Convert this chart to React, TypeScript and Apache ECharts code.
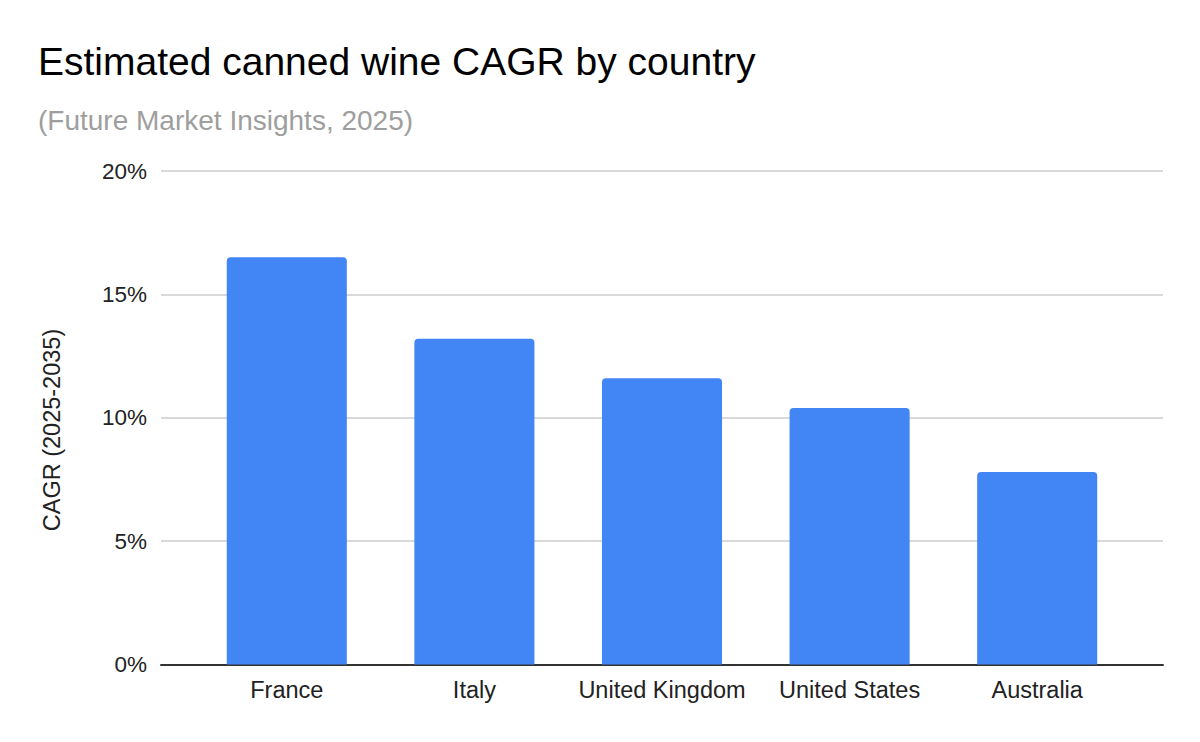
import { useEffect, useRef } from "react"
import * as echarts from "echarts"

const countries = ["France", "Italy", "United Kingdom", "United States", "Australia"]
const cagrValues = [16.5, 13.2, 11.6, 10.4, 7.8]
const yTicks = [0, 5, 10, 15, 20]

const chartTitle = "Estimated canned wine CAGR by country"
const chartSubtitle = "(Future Market Insights, 2025)"
const yAxisName = "CAGR (2025-2035)"

const FONT = "Liberation Sans, Arial, Helvetica, sans-serif"

export default function App() {
  const hostRef = useRef<HTMLDivElement>(null)

  useEffect(() => {
    const el = hostRef.current
    if (!el) return
    const chart = echarts.init(el, undefined, { renderer: "svg" })

    const yMin = yTicks[0]
    const yMax = yTicks[yTicks.length - 1]
    const yStep = yTicks[1] - yTicks[0]

    chart.setOption({
      animation: false,
      backgroundColor: "#ffffff",
      title: [
        {
          text: chartTitle,
          left: 33,
          top: 37,
          textStyle: { fontFamily: FONT, fontSize: 39, fontWeight: "normal", color: "#000000" },
        },
        {
          text: chartSubtitle,
          left: 33,
          top: 101,
          textStyle: { fontFamily: FONT, fontSize: 28, fontWeight: "normal", color: "#9e9e9e" },
        },
      ],
      graphic: [
        {
          type: "text",
          x: 52,
          y: 430,
          rotation: Math.PI / 2,
          style: {
            text: yAxisName,
            fontFamily: FONT,
            fontSize: 23.5,
            fill: "#222222",
            align: "center",
            verticalAlign: "middle",
          },
        },
      ],
      // outer grid carries gridlines, y labels and baseline; inner grid holds the bars
      grid: [
        { left: 161, right: 37, top: 171, bottom: 77.5 },
        { left: 193, right: 69, top: 171, bottom: 77.5 },
      ],
      xAxis: [
        {
          type: "category",
          gridIndex: 0,
          data: [""],
          axisLine: { lineStyle: { color: "#333333", width: 2 } },
          axisTick: { show: false },
          axisLabel: { show: false },
        },
        {
          type: "category",
          gridIndex: 1,
          data: countries,
          axisLine: { show: false },
          axisTick: { show: false },
          axisLabel: {
            interval: 0,
            color: "#222222",
            fontFamily: FONT,
            fontSize: 23.5,
            margin: 13,
          },
        },
      ],
      yAxis: [
        {
          type: "value",
          gridIndex: 0,
          min: yMin,
          max: yMax,
          interval: yStep,
          axisLine: { show: false },
          axisTick: { show: false },
          splitLine: { lineStyle: { color: "#cccccc", width: 1.5 } },
          axisLabel: {
            color: "#222222",
            fontFamily: FONT,
            fontSize: 22.5,
            margin: 14,
            formatter: "{value}%",
          },
        },
        {
          type: "value",
          gridIndex: 1,
          min: yMin,
          max: yMax,
          interval: yStep,
          axisLine: { show: false },
          axisTick: { show: false },
          splitLine: { show: false },
          axisLabel: { show: false },
        },
      ],
      series: [
        {
          type: "bar",
          xAxisIndex: 1,
          yAxisIndex: 1,
          data: cagrValues,
          barCategoryGap: "36%",
          itemStyle: { color: "#4285f4", borderRadius: [4, 4, 0, 0] },
        },
      ],
    })

    return () => {
      chart.dispose()
    }
  }, [])

  return (
    <div
      ref={hostRef}
      style={{ position: "fixed", left: 0, top: 0, width: 1200, height: 742 }}
    />
  )
}
